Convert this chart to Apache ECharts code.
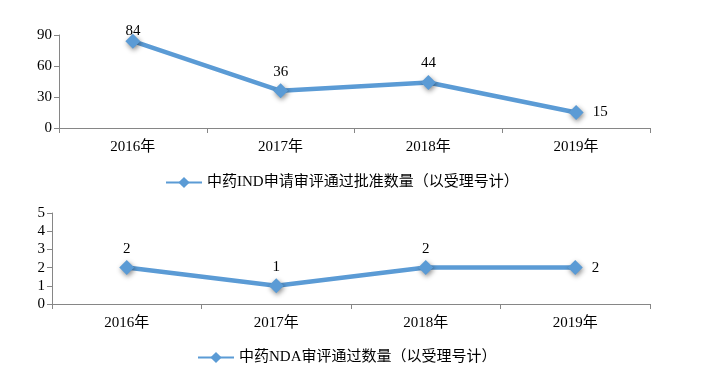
<!DOCTYPE html>
<html>
<head>
<meta charset="utf-8">
<script src="https://cdn.jsdelivr.net/npm/echarts@6/dist/echarts.min.js"></script>
<style>
  html, body { margin: 0; padding: 0; background: #fff; }
  #chart { width: 701px; height: 376px; }
</style>
</head>
<body>
<div id="chart"></div>
<script>
// 年份
var years = ['2016年', '2017年', '2018年', '2019年'];
// 中药IND申请审评通过批准数量
var indName = '中药IND申请审评通过批准数量（以受理号计）';
var indValues = [84, 36, 44, 15];
var indLabelPos = ['top', 'top', 'top', 'right'];
// 中药NDA审评通过数量
var ndaName = '中药NDA审评通过数量（以受理号计）';
var ndaValues = [2, 1, 2, 2];
var ndaLabelPos = ['top', 'top', 'top', 'right'];

var font = "'Liberation Serif', 'Noto Sans CJK SC', serif";
var blue = '#5b9bd5';
var axisColor = '#868686';

function withLabels(values, pos, max) {
  return values.map(function (v, i) {
    // 靠近顶部的标签往下压一点（Excel 会把标签挤进绘图区）
    var d = pos[i] === 'right' ? 9 : (v / max > 0.9 ? -5 : 4);
    return { value: v, label: { position: pos[i], distance: d } };
  });
}

function catAxis(gridIndex) {
  return {
    type: 'category',
    gridIndex: gridIndex,
    data: years,
    boundaryGap: true,
    axisLine: { lineStyle: { color: axisColor, width: 1 } },
    axisTick: { show: true, interval: 0, length: 5, lineStyle: { color: axisColor } },
    axisLabel: { color: '#000', fontSize: 15, fontFamily: font, margin: 12 }
  };
}

function valAxis(gridIndex, max, interval) {
  return {
    type: 'value',
    gridIndex: gridIndex,
    min: 0,
    max: max,
    interval: interval,
    splitLine: { show: false },
    axisLine: { show: true, lineStyle: { color: axisColor, width: 1 } },
    axisTick: { show: true, length: 5, lineStyle: { color: axisColor } },
    axisLabel: { color: '#000', fontSize: 15, fontFamily: font, margin: 7 }
  };
}

function lineSeries(name, idx, data) {
  return {
    name: name,
    type: 'line',
    xAxisIndex: idx,
    yAxisIndex: idx,
    data: data,
    symbol: 'diamond',
    symbolSize: 15,
    lineStyle: { color: blue, width: 4.5 },
    itemStyle: {
      color: blue,
      shadowBlur: 5,
      shadowColor: 'rgba(0,0,0,0.45)',
      shadowOffsetX: 1,
      shadowOffsetY: 2
    },
    label: { show: true, color: '#000', fontSize: 15, fontFamily: font },
    animation: false
  };
}

var chart = echarts.init(document.getElementById('chart'));
chart.setOption({
  backgroundColor: '#fff',
  grid: [
    { left: 59, right: 51, top: 35, height: 93 },
    { left: 52, right: 51, top: 213, height: 91 }
  ],
  xAxis: [catAxis(0), catAxis(1)],
  yAxis: [valAxis(0, 90, 30), valAxis(1, 5, 1)],
  legend: [
    {
      data: [indName], left: 165, top: 175, padding: 0, itemWidth: 36, itemHeight: 14,
      textStyle: { color: '#000', fontSize: 15, fontFamily: font }
    },
    {
      data: [ndaName], left: 197, top: 350, padding: 0, itemWidth: 36, itemHeight: 14,
      textStyle: { color: '#000', fontSize: 15, fontFamily: font }
    }
  ],
  series: [
    lineSeries(indName, 0, withLabels(indValues, indLabelPos, 90)),
    lineSeries(ndaName, 1, withLabels(ndaValues, ndaLabelPos, 5))
  ]
});
</script>
</body>
</html>
